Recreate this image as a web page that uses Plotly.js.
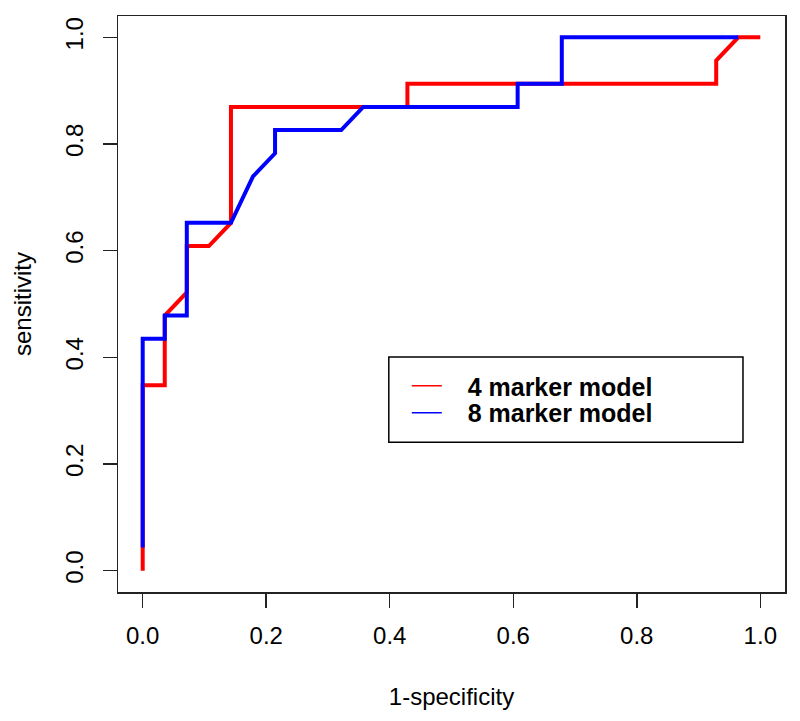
<!DOCTYPE html>
<html>
<head>
<meta charset="utf-8">
<script src="https://cdn.plot.ly/plotly-3.0.1.min.js"></script>
<style>html,body{margin:0;padding:0;background:#fff;}#chart{width:800px;height:721px;}</style>
</head>
<body>
<div id="chart"></div>
<script>
// 4 marker model ROC (1-specificity, sensitivity)
const model4_fpr = [0, 0, 0.0357, 0.0357, 0.0714, 0.0714, 0.1071, 0.1429, 0.1429, 0.4286, 0.4286, 0.9286, 0.9286, 0.9643, 1.0];
const model4_tpr = [0, 0.3478, 0.3478, 0.4783, 0.5217, 0.6087, 0.6087, 0.6522, 0.8696, 0.8696, 0.9130, 0.9130, 0.9565, 1.0, 1.0];
// 8 marker model ROC
const model8_fpr = [0, 0, 0.0357, 0.0357, 0.0714, 0.0714, 0.1429, 0.1786, 0.2143, 0.2143, 0.3214, 0.3571, 0.6071, 0.6071, 0.6786, 0.6786, 0.9643];
const model8_tpr = [0.0435, 0.4348, 0.4348, 0.4783, 0.4783, 0.6522, 0.6522, 0.7391, 0.7826, 0.8261, 0.8261, 0.8696, 0.8696, 0.9130, 0.9130, 1.0, 1.0];
const seriesNames = ["4 marker model", "8 marker model"];
const tickVals = [0, 0.2, 0.4, 0.6, 0.8, 1.0];
const tickText = ["0.0", "0.2", "0.4", "0.6", "0.8", "1.0"];

const font = "Liberation Sans, Arial, sans-serif";
const pad = "\u00a0\u00a0\u00a0";
const traces = [
  {x: model4_fpr, y: model4_tpr, mode: "lines", line: {color: "#FF0000", width: 4}, showlegend: false},
  {x: model8_fpr, y: model8_tpr, mode: "lines", line: {color: "#0000FF", width: 4}, showlegend: false},
  {x: [null], y: [null], mode: "lines", name: pad + seriesNames[0], line: {color: "#FF0000", width: 1.5}, legend: "legend"},
  {x: [null], y: [null], mode: "lines", name: pad + seriesNames[1], line: {color: "#0000FF", width: 1.5}, legend: "legend2"}
];
const legendStyle = {
  xanchor: "left", yanchor: "middle", borderwidth: 0, bgcolor: "rgba(0,0,0,0)",
  font: {size: 25, weight: "bold", family: font}, itemwidth: 30
};
const layout = {
  width: 800, height: 721,
  margin: {l: 118, r: 15, t: 16, b: 129},
  paper_bgcolor: "#fff", plot_bgcolor: "#fff",
  font: {family: font, color: "#000", size: 24},
  xaxis: {
    range: [-0.04, 1.04], tickvals: tickVals, ticktext: tickText,
    showgrid: false, zeroline: false, showline: true, mirror: true, linecolor: "#222", linewidth: 1.5,
    ticks: "outside", ticklen: 14, tickwidth: 1.5, tickcolor: "#222",
    tickfont: {size: 24}, ticklabelstandoff: 8,
    title: {text: "1-specificity", font: {size: 24}, standoff: 40}
  },
  yaxis: {
    range: [-0.04, 1.04], tickvals: tickVals, ticktext: tickText, tickangle: -90,
    showgrid: false, zeroline: false, showline: true, mirror: true, linecolor: "#222", linewidth: 1.5,
    ticks: "outside", ticklen: 14, tickwidth: 1.5, tickcolor: "#222",
    tickfont: {size: 24}, ticklabelstandoff: 10,
    title: {text: "sensitivity", font: {size: 24}, standoff: 22}
  },
  legend: Object.assign({x: 0.433, y: 0.3576}, legendStyle),
  legend2: Object.assign({x: 0.433, y: 0.3108}, legendStyle),
  shapes: [
    {type: "rect", xref: "paper", yref: "paper", x0: 0.406, x1: 0.937, y0: 0.260, y1: 0.408,
     line: {color: "#000", width: 1.5}, fillcolor: "rgba(0,0,0,0)"}
  ]
};
Plotly.newPlot("chart", traces, layout, {displayModeBar: false, staticPlot: true});
</script>
</body>
</html>
